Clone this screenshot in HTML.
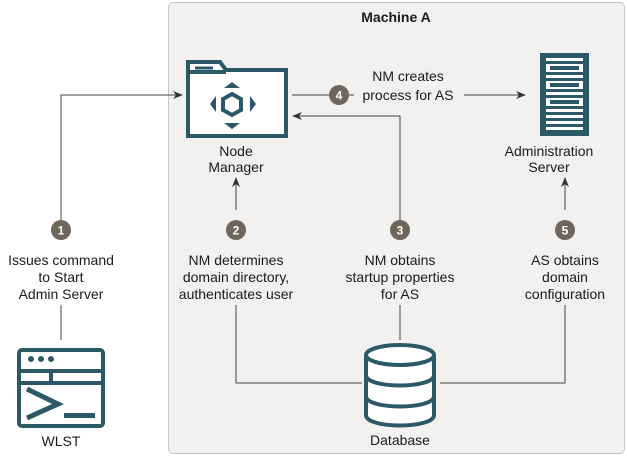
<!DOCTYPE html>
<html><head><style>body{margin:0;background:#fff}svg{display:block}text{font-family:"Liberation Sans",sans-serif;font-size:14px;fill:#1a1a1a}</style></head><body>
<svg width="627" height="456" viewBox="0 0 627 456">
<defs><marker id="a" markerWidth="10" markerHeight="8" refX="9" refY="4" orient="auto" markerUnits="userSpaceOnUse"><path d="M0,0 L10,4 L0,8 L3,4z" fill="#333"/></marker></defs>
<rect x="168.5" y="2.5" width="456" height="451" rx="5" fill="#f2f1ef" stroke="#c9c8c6"/>
<text x="396" y="22" text-anchor="middle" font-weight="bold" style="font-size:14px">Machine A</text>
<g stroke="#444" stroke-width="1" fill="none">
<path d="M61 340 V305"/>
<path d="M61 220 V95 H182" marker-end="url(#a)"/>
<path d="M236 210 V178" marker-end="url(#a)"/>
<path d="M565 210 V178" marker-end="url(#a)"/>
<path d="M236 305 V383 H362"/>
<path d="M400 305 V340"/>
<path d="M565 305 V383 H440"/>
<path d="M400 220 V116 H293" marker-end="url(#a)"/>
<path d="M292 95 H329"/>
<path d="M349 95 H354"/>
<path d="M464 95 H525" marker-end="url(#a)"/>
</g>
<g fill="#6f655b"><circle cx="61" cy="230" r="10"/><circle cx="236" cy="230" r="10"/><circle cx="400" cy="230" r="10"/><circle cx="339" cy="95" r="10"/><circle cx="565" cy="230" r="10"/></g>
<g font-weight="bold" text-anchor="middle"><text x="61" y="234.5" fill="#fff" style="font-size:12px;fill:#fff">1</text><text x="236" y="234.5" style="font-size:12px;fill:#fff">2</text><text x="400" y="234.5" style="font-size:12px;fill:#fff">3</text><text x="339" y="99.5" style="font-size:12px;fill:#fff">4</text><text x="565" y="234.5" style="font-size:12px;fill:#fff">5</text></g>
<g text-anchor="middle">
<text x="61" y="265">Issues command</text><text x="61" y="282">to Start</text><text x="61" y="299">Admin Server</text>
<text x="236" y="265">NM determines</text><text x="236" y="282">domain directory,</text><text x="236" y="299">authenticates user</text>
<text x="400" y="265">NM obtains</text><text x="400" y="282">startup properties</text><text x="400" y="299">for AS</text>
<text x="565" y="265">AS obtains</text><text x="565" y="282">domain</text><text x="565" y="299">configuration</text>
<text x="408" y="81">NM creates</text><text x="408" y="100">process for AS</text>
<text x="236" y="156">Node</text><text x="236" y="172">Manager</text>
<text x="549" y="156">Administration</text><text x="549" y="172">Server</text>
<text x="61" y="446">WLST</text><text x="400" y="445">Database</text>
</g>
<g stroke="#2c5967" stroke-width="4" fill="#fff">
<path d="M188 136 V62 H220 L226 70 H286 V136 Z"/>
<line x1="188" y1="72" x2="226" y2="72"/>
</g>
<line x1="195" y1="68" x2="213" y2="68" stroke="#2c5967" stroke-width="3"/>
<g fill="#2c5967"><polygon points="232,82 240,88 224,88"/><polygon points="232,129 240,123 224,123"/><polygon points="210,104 216,96 216,112"/><polygon points="256,104 250,96 250,112"/></g>
<polygon points="232,94 241,99 241,110 232,115 223,110 223,99" fill="none" stroke="#2c5967" stroke-width="4"/>
<rect x="540" y="53" width="49" height="83" fill="#2c5967"/>
<g fill="#fff"><rect x="546" y="58" width="37" height="3"/><rect x="546" y="64" width="37" height="8"/><rect x="546" y="75" width="37" height="3"/><rect x="546" y="81" width="37" height="8"/><rect x="546" y="92" width="37" height="3"/><rect x="546" y="98" width="37" height="8"/><rect x="546" y="109" width="37" height="3"/><rect x="546" y="115" width="37" height="3"/><rect x="546" y="121" width="37" height="3"/><rect x="546" y="127" width="37" height="3"/></g>
<g fill="#2c5967"><rect x="550" y="66" width="29" height="4"/><rect x="550" y="83" width="29" height="4"/><rect x="550" y="100" width="29" height="4"/></g>
<rect x="19" y="350" width="84" height="76" rx="3" fill="#fff" stroke="#2c5967" stroke-width="4"/>
<g fill="#2c5967"><rect x="19" y="369" width="84" height="4"/><rect x="19" y="381" width="84" height="4"/><rect x="49" y="371" width="4" height="12"/><circle cx="31" cy="359" r="3"/><circle cx="41" cy="359" r="3"/><circle cx="51" cy="359" r="3"/><rect x="64" y="413" width="31" height="5"/></g>
<path d="M27 389 L58 404 L27 418" fill="none" stroke="#2c5967" stroke-width="5"/>
<g stroke="#2c5967" stroke-width="4" fill="#fff">
<path d="M366 355 V415 C366 429 434 429 434 415 V355"/>
<ellipse cx="400" cy="355" rx="34" ry="10"/>
<path d="M366 375 C366 389 434 389 434 375" fill="none"/>
<path d="M366 396 C366 410 434 410 434 396" fill="none"/>
</g>
</svg>
</body></html>
